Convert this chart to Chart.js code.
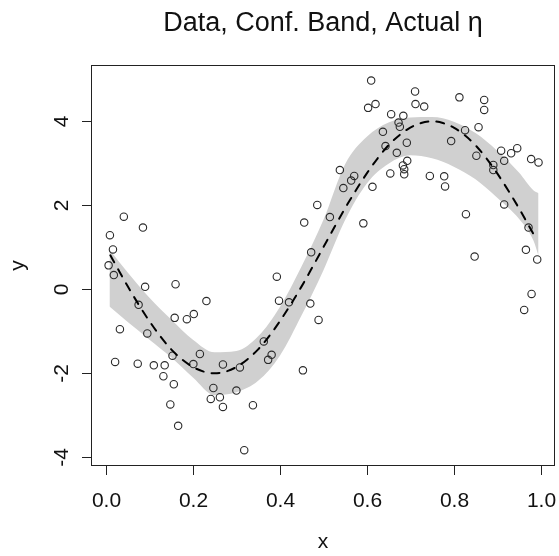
<!DOCTYPE html>
<html>
<head>
<meta charset="utf-8">
<script src="https://cdn.jsdelivr.net/npm/chart.js@4.4.1/dist/chart.umd.min.js"></script>
<style>
  body { margin: 0; background: #fff; }
  canvas { display: block; }
</style>
</head>
<body>
<canvas id="chart" width="559" height="556"></canvas>
<script>
// observed data (x, y)
const ptX = [0.041, 0.085, 0.009, 0.016, 0.006, 0.018, 0.090, 0.160, 0.231, 0.075,
  0.158, 0.186, 0.202, 0.032, 0.095, 0.021, 0.073, 0.110, 0.135, 0.153,
  0.216, 0.201, 0.132, 0.156, 0.247, 0.241, 0.148, 0.166, 0.393, 0.398,
  0.421, 0.470, 0.489, 0.363, 0.381, 0.373, 0.269, 0.308, 0.453, 0.300,
  0.262, 0.269, 0.338, 0.318, 0.486, 0.456, 0.515, 0.472, 0.610, 0.711,
  0.620, 0.603, 0.712, 0.732, 0.656, 0.684, 0.673, 0.676, 0.637, 0.692,
  0.643, 0.669, 0.693, 0.683, 0.686, 0.654, 0.686, 0.538, 0.571, 0.564,
  0.546, 0.613, 0.745, 0.778, 0.780, 0.592, 0.813, 0.870, 0.870, 0.857,
  0.826, 0.794, 0.909, 0.932, 0.946, 0.916, 0.852, 0.978, 0.995, 0.891,
  0.891, 0.916, 0.828, 0.972, 0.966, 0.848, 0.992, 0.979, 0.962];
const ptY = [1.73, 1.47, 1.29, 0.95, 0.57, 0.34, 0.06, 0.12, -0.28, -0.37,
  -0.68, -0.71, -0.59, -0.95, -1.05, -1.73, -1.77, -1.81, -1.81, -1.58,
  -1.54, -1.78, -2.07, -2.26, -2.35, -2.61, -2.74, -3.25, 0.30, -0.27,
  -0.31, -0.34, -0.73, -1.24, -1.56, -1.68, -1.79, -1.86, -1.93, -2.41,
  -2.57, -2.80, -2.76, -3.83, 2.01, 1.59, 1.72, 0.88, 4.97, 4.71,
  4.41, 4.32, 4.41, 4.35, 4.17, 4.13, 3.97, 3.87, 3.75, 3.49,
  3.41, 3.25, 3.06, 2.95, 2.86, 2.76, 2.74, 2.84, 2.70, 2.59,
  2.41, 2.44, 2.70, 2.69, 2.45, 1.57, 4.57, 4.51, 4.27, 3.86,
  3.79, 3.53, 3.30, 3.24, 3.36, 3.06, 3.18, 3.10, 3.02, 2.96,
  2.84, 2.02, 1.79, 1.47, 0.94, 0.78, 0.71, -0.11, -0.49];

// confidence band
const bandX  = [0.008, 0.05, 0.1, 0.15, 0.2, 0.25, 0.3, 0.35, 0.4, 0.45, 0.5,
  0.55, 0.6, 0.65, 0.7, 0.75, 0.8, 0.85, 0.9, 0.95, 0.983, 0.995];
const bandUp = [0.95, 0.40, -0.20, -0.72, -1.20, -1.50, -1.47, -1.12, -0.42, 0.55, 1.65,
  2.98, 3.63, 3.97, 4.09, 4.10, 3.99, 3.72, 3.30, 2.78, 2.36, 2.29];
const bandLo = [-0.41, -0.78, -1.20, -1.62, -2.10, -2.52, -2.45, -2.18, -1.58, -0.62, 0.45,
  1.65, 2.52, 2.99, 3.19, 3.12, 2.92, 2.62, 2.18, 1.68, 1.17, 0.80];

// actual eta (dashed)
const etaX = [0.01, 0.025, 0.05, 0.075, 0.1, 0.125, 0.15, 0.175, 0.2, 0.225, 0.25,
  0.275, 0.3, 0.325, 0.35, 0.375, 0.4, 0.425, 0.45, 0.475, 0.5,
  0.525, 0.55, 0.575, 0.6, 0.625, 0.65, 0.675, 0.7, 0.725, 0.75,
  0.775, 0.8, 0.825, 0.85, 0.875, 0.9, 0.925, 0.95, 0.975, 0.99];
const etaY = [0.81, 0.53, 0.07, -0.36, -0.76, -1.12, -1.43, -1.67, -1.85, -1.96, -2.00,
  -1.96, -1.85, -1.67, -1.43, -1.12, -0.76, -0.36, 0.07, 0.53, 1.00,
  1.47, 1.93, 2.36, 2.76, 3.12, 3.43, 3.67, 3.85, 3.96, 4.00,
  3.96, 3.85, 3.67, 3.43, 3.12, 2.76, 2.36, 1.93, 1.47, 1.19];

const xTicks = [0, 0.2, 0.4, 0.6, 0.8, 1.0];
const xTickLabels = ['0.0', '0.2', '0.4', '0.6', '0.8', '1.0'];
const yTicks = [-4, -2, 0, 2, 4];
const yTickLabels = ['-4', '-2', '0', '2', '4'];

const FONT = '"Liberation Sans", Arial, sans-serif';

const zip = (xs, ys) => xs.map((v, i) => ({ x: v, y: ys[i] }));

// R style box, axes and titles
const baseAxes = {
  id: 'baseAxes',
  afterDraw(chart) {
    const { ctx, chartArea: a } = chart;
    const sx = chart.scales.x, sy = chart.scales.y;
    ctx.save();
    ctx.strokeStyle = '#222';
    ctx.lineWidth = 1;
    ctx.strokeRect(a.left + 0.5, a.top - 0.5, a.right - a.left - 1, a.bottom - a.top + 1);

    ctx.fillStyle = '#111';
    ctx.font = '21px ' + FONT;
    ctx.textAlign = 'center';
    ctx.textBaseline = 'alphabetic';
    xTicks.forEach((v, i) => {
      const px = Math.round(sx.getPixelForValue(v)) + 0.5;
      ctx.beginPath();
      ctx.moveTo(px, a.bottom);
      ctx.lineTo(px, a.bottom + 10);
      ctx.stroke();
      ctx.fillText(xTickLabels[i], px, a.bottom + 42);
    });
    yTicks.forEach((v, i) => {
      const py = Math.round(sy.getPixelForValue(v)) + 0.5;
      ctx.beginPath();
      ctx.moveTo(a.left, py);
      ctx.lineTo(a.left - 9, py);
      ctx.stroke();
      ctx.save();
      ctx.translate(a.left - 23, py);
      ctx.rotate(-Math.PI / 2);
      ctx.fillText(yTickLabels[i], 0, 0);
      ctx.restore();
    });

    ctx.fillText('x', (a.left + a.right) / 2, 548);
    ctx.save();
    ctx.translate(24, (a.top + a.bottom) / 2);
    ctx.rotate(-Math.PI / 2);
    ctx.fillText('y', 0, 0);
    ctx.restore();

    ctx.font = '27px ' + FONT;
    ctx.fillText('Data, Conf. Band, Actual \u03b7', (a.left + a.right) / 2, 31);
    ctx.restore();
  }
};

new Chart(document.getElementById('chart'), {
  type: 'scatter',
  data: {
    datasets: [
      {
        type: 'line',
        data: zip(etaX, etaY),
        borderColor: '#000',
        borderWidth: 2,
        borderDash: [8, 8],
        borderCapStyle: 'round',
        pointRadius: 0,
        cubicInterpolationMode: 'monotone',
        fill: false
      },
      {
        data: zip(ptX, ptY),
        pointStyle: 'circle',
        pointRadius: 3.7,
        borderWidth: 1.1,
        borderColor: '#2a2a2a',
        backgroundColor: 'rgba(0,0,0,0)'
      },
      {
        type: 'line',
        data: zip(bandX, bandUp),
        borderWidth: 0,
        borderColor: 'rgba(0,0,0,0)',
        backgroundColor: '#d0d0d0',
        pointRadius: 0,
        cubicInterpolationMode: 'monotone',
        fill: '+1'
      },
      {
        type: 'line',
        data: zip(bandX, bandLo),
        borderWidth: 0,
        borderColor: 'rgba(0,0,0,0)',
        pointRadius: 0,
        cubicInterpolationMode: 'monotone',
        fill: false
      }
    ]
  },
  options: {
    responsive: false,
    devicePixelRatio: 1,
    animation: false,
    layout: { autoPadding: false, padding: { left: 91, right: 4, top: 66, bottom: 91 } },
    plugins: {
      legend: { display: false },
      tooltip: { enabled: false },
      filler: { drawTime: 'beforeDatasetsDraw' }
    },
    scales: {
      x: { type: 'linear', min: -0.0345, max: 1.0329, display: false },
      y: { type: 'linear', min: -4.183, max: 5.317, display: false }
    }
  },
  plugins: [baseAxes]
});
</script>
</body>
</html>
